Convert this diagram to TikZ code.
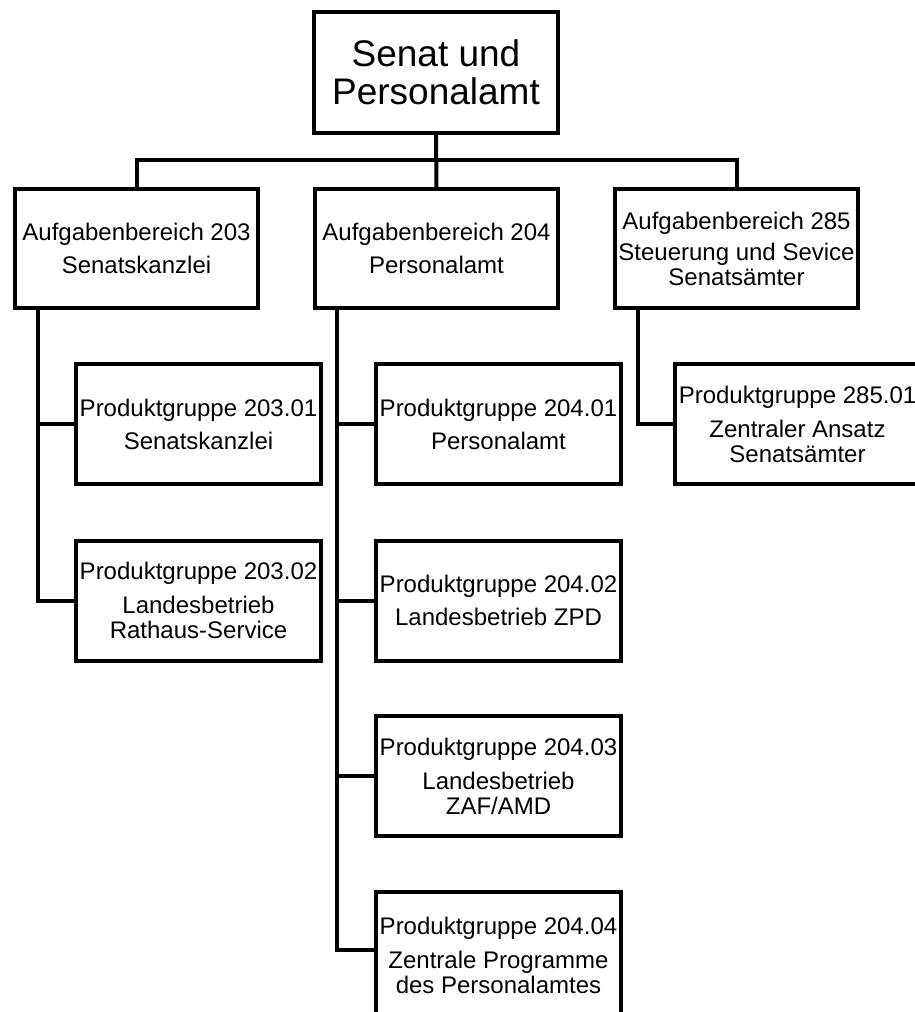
\documentclass[tikz,border=0pt]{standalone}
\usepackage{fontspec}
\setmainfont{Liberation Sans}
\begin{document}
\begin{tikzpicture}[x=1pt,y=-1pt,
  box/.style={draw=black, line width=4pt, fill=white, inner sep=0pt, outer sep=0pt,
    align=center, font=\fontsize{24}{25}\selectfont},
  topbox/.style={box, minimum width=244pt, minimum height=121pt, font=\fontsize{37}{38}\selectfont},
  areabox/.style={box, minimum width=243pt, minimum height=119pt},
  prodbox/.style={box, minimum width=245pt, minimum height=120pt},
  conn/.style={draw=black, line width=4pt, line join=miter}]
\useasboundingbox (0,0) rectangle (915,1012);
\fill[white] (0,0) rectangle (915,1012);
\clip (0,0) rectangle (915,1012);

\node[topbox] (top) at (436,72.5) {Senat und\\Personalamt};

\node[areabox] (a203) at (136.5,248.5) {Aufgabenbereich 203\\[8pt]Senatskanzlei};
\node[areabox] (a204) at (436.5,248.5) {Aufgabenbereich 204\\[8pt]Personalamt};
\node[areabox] (a285) at (736.5,248.5) {Aufgabenbereich 285\\[6pt]Steuerung und Sevice\\Senatsämter};

\node[prodbox] (p20301) at (198.5,424) {Produktgruppe 203.01\\[8pt]Senatskanzlei};
\node[prodbox] (p20302) at (198.5,600.5) {Produktgruppe 203.02\\[9pt]Landesbetrieb\\Rathaus-Service};
\node[prodbox] (p20401) at (498.5,424) {Produktgruppe 204.01\\[8pt]Personalamt};
\node[prodbox] (p20402) at (498.5,600.5) {Produktgruppe 204.02\\[8pt]Landesbetrieb ZPD};
\node[prodbox] (p20403) at (498.5,776) {Produktgruppe 204.03\\[9pt]Landesbetrieb\\ZAF/AMD};
\node[prodbox, minimum height=126pt] (p20404) at (498.5,955) {Produktgruppe 204.04\\[9pt]Zentrale Programme\\des Personalamtes};
\node[prodbox] (p28501) at (797.5,424) {Produktgruppe 285.01\\[9pt]Zentraler Ansatz\\Senatsämter};

\coordinate (bus) at (0,160);
\coordinate (t203) at (38,308);
\coordinate (t204) at (337,308);
\coordinate (t285) at (638,308);
\coordinate (b20404) at (0,950);

\draw[conn] (top.south) -- (a204.north);
\draw[conn] (a203.north) -- (a203.north |- bus) -- (a285.north |- bus) -- (a285.north);

\draw[conn] (t203) |- (p20302.west);
\draw[conn] (p20301.west) -- (p20301.west -| t203);

\draw[conn] (t204) |- (p20404.west |- b20404);
\draw[conn] (p20401.west) -- (p20401.west -| t204);
\draw[conn] (p20402.west) -- (p20402.west -| t204);
\draw[conn] (p20403.west) -- (p20403.west -| t204);

\draw[conn] (t285) |- (p28501.west);
\end{tikzpicture}
\end{document}
